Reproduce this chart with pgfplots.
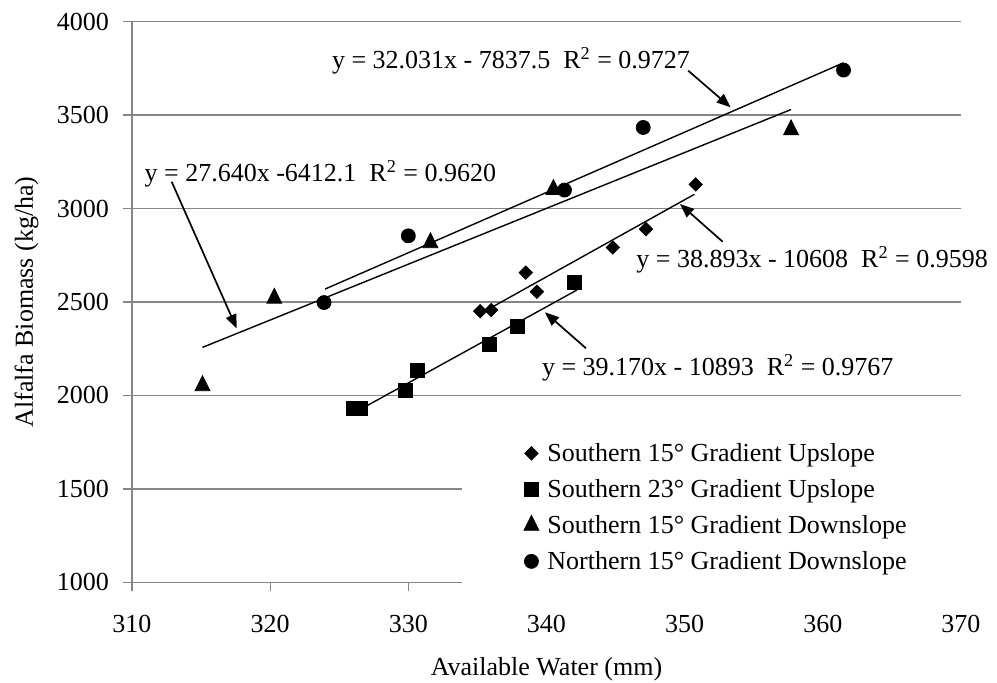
\documentclass[border=0pt]{standalone}
\usepackage{fontspec}
\setmainfont{Liberation Serif}
\usepackage{pgfplots}
\pgfplotsset{compat=1.18}
\usetikzlibrary{arrows.meta}
\definecolor{gridgray}{RGB}{134,134,134}
\newcommand{\fs}{\fontsize{13pt}{15pt}\selectfont}
\pgfplotsset{myleg/.style={legend image code/.code={\draw[##1] plot coordinates {(0pt,1pt)}; \path[draw=none,fill=none] (-4pt,-6pt) rectangle (4pt,6pt);}}}
\begin{document}
\fs
\begin{tikzpicture}
\path[use as bounding box] (-66pt,-50.35pt) rectangle (432.5pt,291.15pt);
\begin{axis}[
  at={(0,0)}, anchor=south west,
  width=414.5pt, height=280.3pt, scale only axis,
  clip=false,
  xmin=310, xmax=370, ymin=1000, ymax=4000,
  xtick={310,320,...,370}, ytick={1000,1500,...,4000},
  axis x line*=bottom, axis y line*=left,
  x axis line style={-}, y axis line style={-},
  axis line style={gridgray, line width=0.65pt},
  tick align=outside, major tick length=4.6pt,
  tick style={gridgray, line width=0.65pt},
  ymajorgrids, grid style={gridgray, line width=0.65pt},
  /pgf/number format/assume math mode=true,
  /pgf/number format/1000 sep={},
  ticklabel style={font=\fs, inner sep=0pt},
  xticklabel style={anchor=north, yshift=-11.75pt},
  yticklabel style={anchor=east, xshift=-6.75pt},
  xlabel={Available Water (mm)},
  every axis x label/.style={at={([yshift=-46.85pt]axis description cs:0.5,0)}, anchor=base, font=\fs, inner sep=0pt},
  ylabel={Alfalfa Biomass (kg/ha)},
  every axis y label/.style={at={([xshift=-49.5pt]axis description cs:0,0.5)}, rotate=90, anchor=base, font=\fs, inner sep=0pt},
  legend cell align=left,
  legend style={draw=none, fill=white, inner xsep=30.5pt, inner ysep=10pt,
    at={(0.3981,0.2842)}, anchor=north west, font=\fs,
    nodes={inner sep=0pt, text height=9pt, text depth=3pt},
    row sep=6pt, column sep=4pt},
]
% trend lines
\addplot[black, line width=0.7pt, forget plot] coordinates {(335.2,2437) (350.7,3076)};
\addplot[black, line width=0.7pt, forget plot] coordinates {(326.0,1904) (342.2,2564)};
\addplot[black, line width=0.7pt, forget plot] coordinates {(315.1,2257) (357.7,3530)};
\addplot[black, line width=0.7pt, forget plot] coordinates {(323.97,2569) (361.5,3780)};
% data
\addplot[black, only marks, mark=square*, mark size=2.35pt, mark options={rotate=45, fill=black}, myleg]
  coordinates {(335.2,2451) (336.0,2457) (338.5,2657) (339.3,2555) (344.8,2792) (347.2,2890) (350.8,3129)};
\addlegendentry{Southern 15° Gradient Upslope}
\addplot[black, only marks, mark=square*, mark size=3.5pt, mark options={fill=black}, myleg]
  coordinates {(326.0,1928) (326.5,1928) (329.8,2029) (330.65,2136) (335.9,2275) (337.9,2371) (342.05,2603)};
\addlegendentry{Southern 23° Gradient Upslope}
\addplot[black, only marks, mark=triangle*, mark size=4.3pt, mark options={yscale=1.15, fill=black}, myleg]
  coordinates {(315.1,2052) (320.3,2520) (331.6,2817) (340.5,3102) (357.7,3421)};
\addlegendentry{Southern 15° Gradient Downslope}
\addplot[black, only marks, mark=*, mark size=3.5pt, mark options={fill=black}, myleg]
  coordinates {(323.9,2497) (330.0,2854) (341.3,3099) (347.0,3434) (361.5,3741)};
\addlegendentry{Northern 15° Gradient Downslope}
% equations
\node[anchor=base west, inner sep=0pt, font=\fs] at (axis cs:324.45,3750.6) {y = 32.031x - 7837.5~~R\textsuperscript{2} = 0.9727};
\node[anchor=base west, inner sep=0pt, font=\fs] at (axis cs:310.89,3143.7) {y = 27.640x -6412.1~~R\textsuperscript{2} = 0.9620};
\node[anchor=base west, inner sep=0pt, font=\fs] at (axis cs:346.48,2685.6) {y = 38.893x - 10608~~R\textsuperscript{2} = 0.9598};
\node[anchor=base west, inner sep=0pt, font=\fs] at (axis cs:339.65,2105.6) {y = 39.170x - 10893~~R\textsuperscript{2} = 0.9767};
% arrows
\draw[black, line width=0.85pt, -{Triangle[length=7pt,width=5.5pt]}] (axis cs:350.26,3737.7) -- (axis cs:353.33,3541.9);
\draw[black, line width=0.85pt, -{Triangle[length=7pt,width=5.5pt]}] (axis cs:312.87,3143.7) -- (axis cs:317.58,2358.2);
\draw[black, line width=0.85pt, -{Triangle[length=7pt,width=5.5pt]}] (axis cs:352.75,2822.6) -- (axis cs:349.66,3024.4);
\draw[black, line width=0.85pt, -{Triangle[length=7pt,width=5.5pt]}] (axis cs:342.86,2252.2) -- (axis cs:339.89,2444.9);
\end{axis}
\end{tikzpicture}
\end{document}
